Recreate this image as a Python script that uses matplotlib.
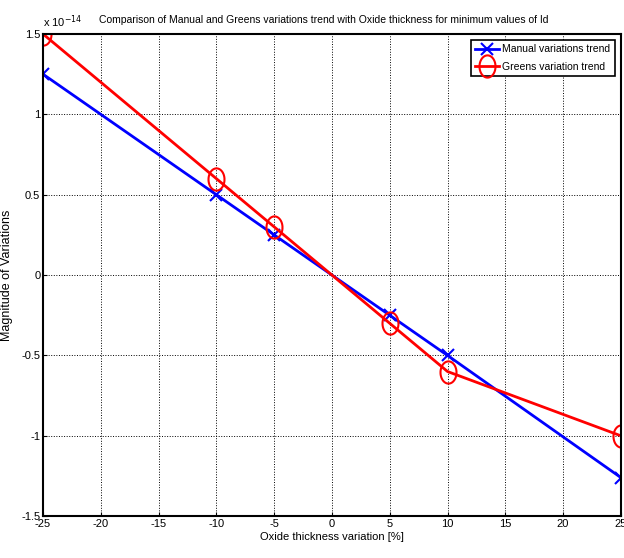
import numpy as np
import matplotlib.pyplot as plt
from matplotlib.path import Path

x_vals = [-25, -10, -5, 0, 5, 10, 25]
manual = [1.25, 0.5, 0.25, 0, -0.25, -0.5, -1.26]   # x 1e-14
greens = [1.5, 0.6, 0.3, 0, -0.3, -0.6, -1.0]       # x 1e-14

x_ticks = [-25, -20, -15, -10, -5, 0, 5, 10, 15, 20, 25]
y_ticks = [-1.5, -1, -0.5, 0, 0.5, 1, 1.5]

plt.rcParams["font.family"] = ["Liberation Sans", "DejaVu Sans"]

# the circles in the original are squashed into ellipses
th = np.linspace(0, 2 * np.pi, 60)
ellipse = Path(np.column_stack([0.72 * np.cos(th), np.sin(th)]))

# no marker at the 0 point
marks = [0, 1, 2, 4, 5, 6]

fig = plt.figure(figsize=(6.24, 5.58), dpi=100)
ax = fig.add_axes([0.069, 0.075, 0.926, 0.864])

ax.plot(x_vals, manual, color="blue", lw=2, marker="x", ms=9, mew=1.5,
        markevery=marks, label="Manual variations trend")
ax.plot(x_vals, greens, color="red", lw=2, marker=ellipse, ms=16, mfc="none", mew=1.5,
        markevery=marks, label="Greens variation trend")

ax.set_xlim(-25, 25)
ax.set_ylim(-1.5, 1.5)
ax.set_xticks(x_ticks)
ax.set_yticks(y_ticks)
ax.set_xticklabels([str(t) for t in x_ticks])
ax.set_yticklabels(["-1.5", "-1", "-0.5", "0", "0.5", "1", "1.5"])
ax.tick_params(direction="in", labelsize=8, length=3, pad=2)
ax.grid(True, color="black", linestyle=":", linewidth=0.7)
for s in ax.spines.values():
    s.set_linewidth(1.5)

ax.text(0.0, 1.008, "x 10$^{-14}$", transform=ax.transAxes, fontsize=8,
        ha="left", va="bottom")
ax.set_title("Comparison of Manual and Greens variations trend with Oxide thickness for minimum values of Id",
             fontsize=7.5, pad=8, x=0.485)
ax.set_xlabel("Oxide thickness variation [%]", fontsize=8, labelpad=2)
ax.set_ylabel("Magnitude of Variations", fontsize=9, labelpad=6)

leg = ax.legend(loc="upper right", fontsize=7.5, fancybox=False, framealpha=1,
                edgecolor="black", handlelength=2.3, borderpad=0.4, labelspacing=0.7,
                handletextpad=0.3, borderaxespad=0.6)
leg.get_frame().set_linewidth(1.2)

fig.savefig("out.png", dpi=100)
